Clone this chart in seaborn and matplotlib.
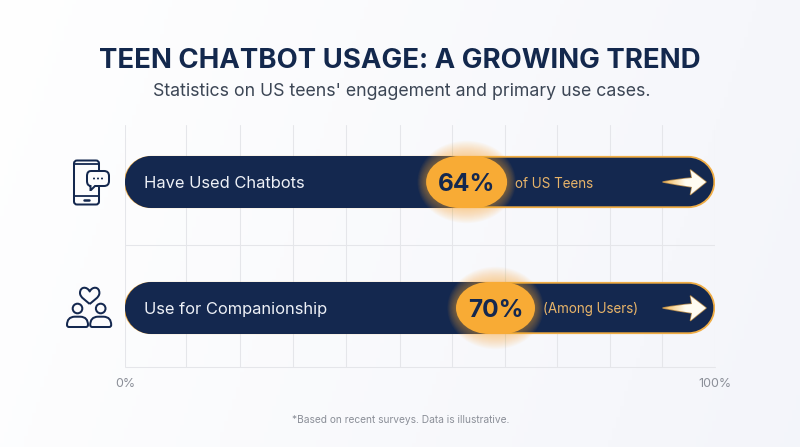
import numpy as np
import seaborn as sns
import matplotlib.pyplot as plt
from matplotlib.patches import FancyBboxPatch, Circle, PathPatch
from matplotlib.path import Path

categories = ['Have Used Chatbots', 'Use for Companionship']
values = [64, 70]
track = [100, 100]
notes = ['of US Teens', '(Among Users)']
grid_x = [0, 10.3, 19.5, 28.4, 37.5, 46.6, 55.5, 64.4, 73.2, 82.2, 91, 100]
tick_pos = [0, 100]
tick_labels = ['0%', '100%']

NAVY = '#14284f'
ORANGE = '#f8ab35'
GRID = '#e5e6ea'
W, H = 800, 447
# plot area in pixels
LEFT, RIGHT, TOP, BOTTOM = 125, 715, 125, 367
ROW_PX = 126
BAR_PX = 52
X_UNIT = (RIGHT - LEFT) / 100
K = 0.5523

sns.set_theme(style='white')
plt.rcParams['font.family'] = ['Inter', 'DejaVu Sans']
fig = plt.figure(figsize=(W / 100, H / 100), dpi=100)

# soft background
bg = fig.add_axes([0, 0, 1, 1], zorder=0)
gx, gy = np.meshgrid(np.linspace(0, 1, 200), np.linspace(0, 1, 120))
shade = np.clip(0.1 + 0.8 * gx + 0.15 * (gy - 0.5), 0, 1)
rgb = np.array([1, 1, 1]) + shade[..., None] * (np.array([0.955, 0.96, 0.98]) - 1)
bg.imshow(rgb, aspect='auto', extent=[0, W, H, 0])
bg.axis('off')

ax = fig.add_axes([LEFT / W, 1 - BOTTOM / H, (RIGHT - LEFT) / W, (BOTTOM - TOP) / H], zorder=1)
ax.patch.set_alpha(0)
sns.barplot(x=track, y=categories, orient='h', width=BAR_PX / ROW_PX, color=NAVY, ax=ax)
sns.barplot(x=values, y=categories, orient='h', width=BAR_PX / ROW_PX, color=NAVY, ax=ax)
ax.set_xlim(0, 100)
ax.set_ylim(1 + (BOTTOM - 308) / ROW_PX, -(182 - TOP) / ROW_PX)

for x in grid_x:
    ax.axvline(x, color=GRID, lw=0.75, zorder=0)
ax.axhline(0.5, color=GRID, lw=0.75, zorder=0)
ax.axhline(ax.get_ylim()[0], color=GRID, lw=0.75, zorder=0, clip_on=False)
ax.set_xticks(tick_pos, tick_labels, color='#8b8f98', fontsize=9)
ax.set_yticks([])
ax.set_xlabel('')
ax.set_ylabel('')
ax.tick_params(axis='x', length=0, pad=8)
sns.despine(ax=ax, left=True, bottom=True)


def rounded(x, y, w, h, rx_px, ry_px):
    # rounded box in data units, corners are real quarter ellipses
    rx = rx_px / X_UNIT
    ry = ry_px / ROW_PX
    x1, y1 = x + w, y + h
    pts = [(x + rx, y), (x1 - rx, y),
           (x1 - rx + K * rx, y), (x1, y + ry - K * ry), (x1, y + ry),
           (x1, y1 - ry),
           (x1, y1 - ry + K * ry), (x1 - rx + K * rx, y1), (x1 - rx, y1),
           (x + rx, y1),
           (x + rx - K * rx, y1), (x, y1 - ry + K * ry), (x, y1 - ry),
           (x, y + ry),
           (x, y + ry - K * ry), (x + rx - K * rx, y), (x + rx, y),
           (x + rx, y)]
    codes = [Path.MOVETO, Path.LINETO, Path.CURVE4, Path.CURVE4, Path.CURVE4, Path.LINETO,
             Path.CURVE4, Path.CURVE4, Path.CURVE4, Path.LINETO, Path.CURVE4, Path.CURVE4, Path.CURVE4,
             Path.LINETO, Path.CURVE4, Path.CURVE4, Path.CURVE4, Path.CLOSEPOLY]
    return Path(pts, codes)


# turn the plain bars into pills
bars = list(ax.patches)
n = len(categories)
offsets = [4.5, -3]
widths = [81, 79]
for i, bar in enumerate(bars):
    x, y, w, h = bar.get_x(), bar.get_y(), bar.get_width(), bar.get_height()
    bar.set_visible(False)
    if i < n:
        inset = 0.8 / ROW_PX
        ax.add_patch(PathPatch(rounded(x, y + inset, w - 0.13, h - 2 * inset, 26, 25),
                               fc=NAVY, ec='#f0ad45', lw=1.3, zorder=2))
    else:
        j = i - n
        # navy fill up to the value
        ax.add_patch(PathPatch(rounded(x, y, w - 4, h, 26, 26), fc=NAVY, ec='none', zorder=3))
        badge_w = widths[j] / X_UNIT
        bx = x + w + offsets[j] / X_UNIT - badge_w
        # glow round the badge
        for k in range(16, 0, -1):
            pad_x = k * 0.55
            pad_y = k * 0.95
            ax.add_patch(PathPatch(
                rounded(bx - pad_x / X_UNIT, y - pad_y / ROW_PX, badge_w + 2 * pad_x / X_UNIT,
                        h + 2 * pad_y / ROW_PX, widths[j] / 2 + pad_x, 26 + pad_y),
                fc=ORANGE, ec='none', alpha=0.035, zorder=4))
        ax.add_patch(PathPatch(rounded(bx, y, badge_w, h, 33, 26), fc=ORANGE, ec='none', zorder=5))
        cy = y + h / 2
        ax.text(bx + badge_w / 2, cy, f'{values[j]}%', ha='center', va='center_baseline',
                fontsize=17.6, fontweight='bold', color=NAVY, zorder=6)
        ax.text(bx + badge_w + 8 / X_UNIT, cy, notes[j], ha='left', va='center_baseline',
                fontsize=9.7, color='#e8b469', zorder=6)
        ax.text(3.2, cy, categories[j], ha='left', va='center_baseline',
                fontsize=11.85, color='#eef1f7', zorder=6)

# overlay in pixel coords for title, icons, arrows
ov = fig.add_axes([0, 0, 1, 1], zorder=2)
ov.axis('off')

ov.text(400, 58, 'TEEN CHATBOT USAGE: A GROWING TREND', ha='center', va='center_baseline',
        fontsize=19.85, fontweight='bold', color='#13284d')
ov.text(401.5, 90, "Statistics on US teens' engagement and primary use cases.", ha='center',
        va='center_baseline', fontsize=12.76, color='#3c4655')
ov.text(400.5, 419, '*Based on recent surveys. Data is illustrative.', ha='center', va='center_baseline',
        fontsize=7.33, color='#8b8f98')

# arrows at the bar ends, golden tail fading to white
arrow_grad = np.linspace(0, 1, 60)[None, :, None]
arrow_rgb = np.array([0.96, 0.72, 0.33]) + np.clip(arrow_grad * 1.9, 0, 1) * (np.array([1, 0.99, 0.95]) - np.array([0.96, 0.72, 0.33]))
for cy in [182, 308]:
    pts = [(663, cy), (678, cy - 3), (692, cy - 4), (690.5, cy - 12), (706, cy), (690.5, cy + 12.5),
           (692, cy + 5), (678, cy + 3), (663, cy), (663, cy)]
    codes = [Path.MOVETO, Path.CURVE3, Path.CURVE3, Path.LINETO, Path.LINETO, Path.LINETO,
             Path.LINETO, Path.CURVE3, Path.CURVE3, Path.CLOSEPOLY]
    shape = Path(pts, codes)
    ov.add_patch(PathPatch(shape, fc='none', ec='#f3b04a', lw=1.1, alpha=0.7, zorder=3, joinstyle='round'))
    clip = PathPatch(shape, fc='none', ec='none', transform=ov.transData)
    ov.add_patch(clip)
    im = ov.imshow(arrow_rgb, extent=[663, 706, cy + 13, cy - 13], aspect='auto', zorder=4)
    im.set_clip_path(clip)
ov.set_xlim(0, W)
ov.set_ylim(H, 0)

icon = dict(fc='none', ec=NAVY, lw=1.45)
# phone
ov.add_patch(FancyBboxPatch((74, 160.5), 25, 44, boxstyle='round,pad=0,rounding_size=3', **icon))
ov.plot([74, 99], [163.5, 163.5], color=NAVY, lw=1.3)
ov.plot([74, 99], [196, 196], color=NAVY, lw=1.3)
ov.plot([84, 89], [200, 200], color=NAVY, lw=1.8)
# speech bubble
bubble = [(91, 171), (104, 171), (109, 171), (109, 176), (109, 181), (109, 186), (104, 186),
          (95, 186), (91, 190), (90.5, 190), (90.5, 186), (87, 185.5), (87, 181), (87, 176), (87, 171), (91, 171)]
codes = [Path.MOVETO, Path.LINETO, Path.CURVE3, Path.CURVE3, Path.LINETO, Path.CURVE3, Path.CURVE3,
         Path.LINETO, Path.LINETO, Path.LINETO, Path.LINETO, Path.CURVE3, Path.CURVE3, Path.LINETO,
         Path.CURVE3, Path.CURVE3]
ov.add_patch(PathPatch(Path(bubble, codes), fc='#fbfcfe', ec=NAVY, lw=1.45, zorder=3))
for dx in [94, 98, 102]:
    ov.add_patch(Circle((dx, 178.5), 1.0, fc=NAVY, ec='none', zorder=4))

# heart and two people
heart = [(89.7, 304), (86, 300.5), (80, 297.5), (80, 293), (80, 286.5), (87, 286), (89.7, 291.5),
         (92.4, 286), (99.4, 286.5), (99.4, 293), (99.4, 297.5), (93.4, 300.5), (89.7, 304)]
hcodes = [Path.MOVETO] + [Path.CURVE4] * 12
ov.add_patch(PathPatch(Path(heart, hcodes), joinstyle='round', **icon))
for cx in [77.5, 100.7]:
    ov.add_patch(Circle((cx, 308.5), 4.8, **icon))
    body = [(cx - 8.5, 327), (cx - 10.5, 327), (cx - 10.5, 325), (cx - 10.5, 317), (cx - 3, 316.7), (cx + 3, 316.7),
            (cx + 3, 316.7), (cx + 10.5, 317), (cx + 10.5, 325), (cx + 10.5, 327), (cx + 8.5, 327), (cx - 8.5, 327), (cx - 8.5, 327)]
    bcodes = [Path.MOVETO, Path.CURVE3, Path.CURVE3, Path.CURVE3, Path.CURVE3, Path.LINETO,
              Path.LINETO, Path.CURVE3, Path.CURVE3, Path.CURVE3, Path.CURVE3, Path.LINETO, Path.CLOSEPOLY]
    ov.add_patch(PathPatch(Path(body, bcodes), joinstyle='round', **icon))

plt.savefig('out.png', dpi=100)
